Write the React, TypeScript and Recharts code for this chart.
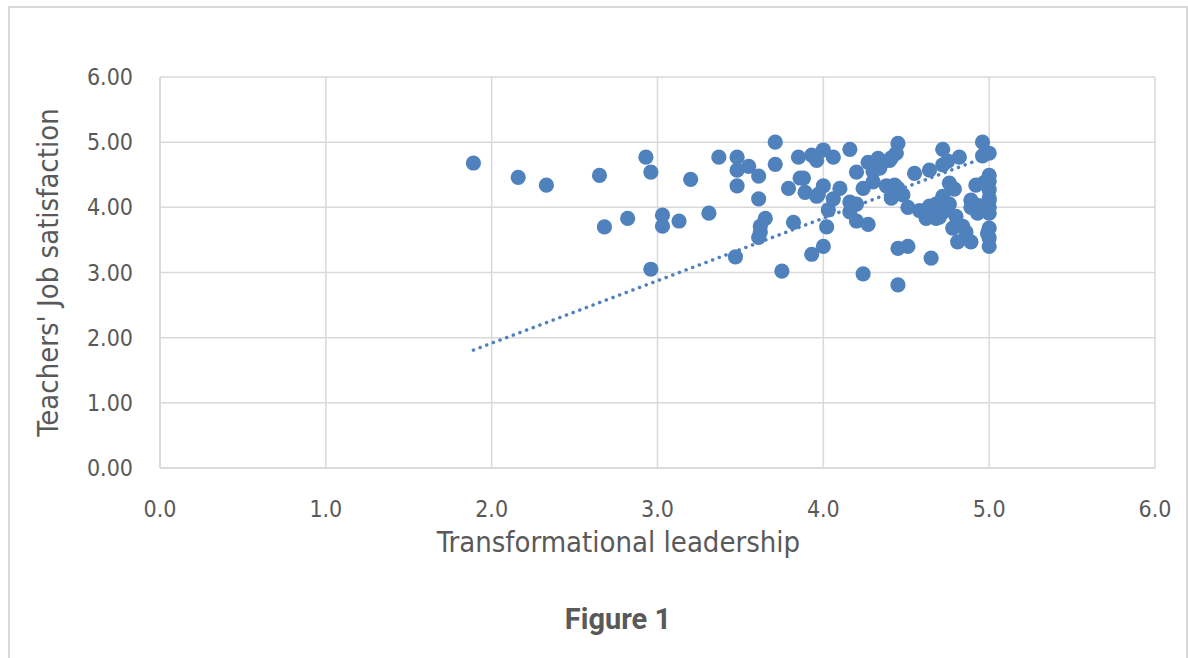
import React from "react"
import {
  ScatterChart,
  Scatter,
  XAxis,
  YAxis,
  CartesianGrid,
  Label,
} from "recharts"

// transformational leadership score per teacher
const leadership = [
  1.89, 2.16, 2.33, 2.65, 2.68, 2.82, 2.93, 2.96, 2.96, 3.03, 3.03, 3.13, 3.2, 3.31,
  3.37, 3.48, 3.48, 3.48, 3.47, 3.55, 3.61, 3.61, 3.62, 3.61, 3.65, 3.75, 3.71, 3.71,
  3.79, 3.82, 3.85, 3.86, 3.89, 3.93, 3.93, 3.96, 3.96, 4.0, 4.0, 4.0, 4.02, 4.03,
  4.06, 4.06, 4.1, 4.16, 4.16, 4.16, 4.2, 4.2, 4.24, 4.24, 4.27, 4.27, 4.3, 4.33,
  4.34, 4.38, 4.4, 4.41, 4.44, 4.45, 4.45, 4.45, 4.45, 4.48, 4.51, 4.51, 4.55, 4.62,
  4.62, 4.64, 4.64, 4.65, 4.68, 4.72, 4.72, 4.72, 4.73, 4.75, 4.76, 4.78, 4.79, 4.8,
  4.81, 4.82, 4.84, 4.86, 4.89, 4.89, 4.89, 4.92, 4.96, 4.96, 5.0, 5.0, 5.0, 5.0,
  5.0, 5.0, 5.0, 5.0, 5.0, 4.93, 4.93, 4.36, 4.41, 4.2, 3.62, 4.58, 4.68, 4.76,
  4.3, 5.0, 5.0, 4.97, 4.99, 4.7, 3.97, 4.43, 3.88,
]

// job satisfaction score per teacher
const satisfaction = [
  4.68, 4.46, 4.34, 4.49, 3.7, 3.83, 4.77, 4.54, 3.05, 3.88, 3.71, 3.79, 4.43, 3.91,
  4.77, 4.77, 4.57, 4.33, 3.24, 4.63, 4.48, 4.13, 3.71, 3.54, 3.83, 3.02, 5.0, 4.66,
  4.29, 3.77, 4.77, 4.45, 4.23, 3.28, 4.8, 4.72, 4.17, 4.88, 3.4, 4.33, 3.7, 3.96,
  4.77, 4.13, 4.29, 4.89, 4.08, 3.93, 3.79, 4.54, 2.98, 4.29, 3.74, 4.69, 4.39, 4.75,
  4.6, 4.33, 4.72, 4.14, 4.83, 4.98, 4.29, 3.37, 2.81, 4.19, 4.0, 3.4, 4.52, 3.93,
  3.83, 4.57, 4.02, 3.22, 3.83, 4.89, 4.65, 4.17, 3.94, 4.71, 4.37, 3.68, 4.28, 3.86,
  3.47, 4.77, 3.71, 3.62, 3.47, 4.11, 4.0, 4.34, 5.0, 4.79, 4.83, 4.49, 4.4, 4.11,
  4.0, 3.91, 3.68, 3.53, 3.4, 4.03, 3.91, 4.7, 4.76, 4.05, 3.62, 3.95, 4.05, 4.05,
  4.55, 4.27, 4.14, 4.38, 3.6, 3.85, 4.2, 4.34, 4.45,
]

// linear trendline ends
const trendX = [1.89, 5.0]
const trendY = [1.81, 4.79]

const xTicks = [0, 1, 2, 3, 4, 5, 6]
const yTicks = [0, 1, 2, 3, 4, 5, 6]

const points = leadership.map((x, i) => ({ x, y: satisfaction[i] }))
const trend = trendX.map((x, i) => ({ x, y: trendY[i] }))

const FONT = "'Liberation Sans Narrow', 'DejaVu Sans Condensed', sans-serif"
const TEXT = "#595959"
const BLUE = "#4f81bd"
const GRID = "#d9d9d9"

const Dot = (props: any) => (
  <circle cx={props.cx} cy={props.cy} r={7.6} fill={BLUE} />
)

export default function App() {
  return (
    <div
      style={{
        position: "absolute",
        left: 8,
        top: 6,
        width: 1180,
        height: 660,
        boxSizing: "border-box",
        border: `2px solid ${GRID}`,
        background: "#fff",
        fontFamily: FONT,
      }}
    >
      <ScatterChart
        width={1176}
        height={560}
        margin={{ top: 69, right: 31, bottom: 10, left: 0 }}
      >
        <CartesianGrid stroke={GRID} strokeWidth={1.5} />
        <XAxis
          type="number"
          dataKey="x"
          domain={[0, 6]}
          ticks={xTicks}
          tickFormatter={(v: number) => v.toFixed(1)}
          height={90}
          tickSize={0}
          tickMargin={33}
          axisLine={{ stroke: GRID, strokeWidth: 1.5 }}
          tick={{ fontSize: 23, fill: TEXT, fontFamily: FONT }}
        >
          <Label
            value="Transformational leadership"
            position="center"
            dx={-39}
            dy={29}
            style={{ fontSize: 29, fill: TEXT, fontFamily: FONT }}
          />
        </XAxis>
        <YAxis
          type="number"
          dataKey="y"
          domain={[0, 6]}
          ticks={yTicks}
          tickFormatter={(v: number) => v.toFixed(2)}
          width={150}
          tickSize={0}
          tickMargin={27}
          axisLine={{ stroke: GRID, strokeWidth: 1.5 }}
          tick={{ fontSize: 23, fill: TEXT, fontFamily: FONT }}
        >
          <Label
            value="Teachers' Job satisfaction"
            position="center"
            angle={-90}
            dx={-37}
            style={{ fontSize: 29, fill: TEXT, fontFamily: FONT, textAnchor: "middle" }}
          />
        </YAxis>
        <Scatter data={points} shape={Dot} isAnimationActive={false} />
        <Scatter
          data={trend}
          shape={() => null}
          line={{
            stroke: BLUE,
            strokeWidth: 3.5,
            strokeDasharray: "0.1 7",
            strokeLinecap: "round",
          }}
          isAnimationActive={false}
        />
      </ScatterChart>
      <div
        style={{
          position: "absolute",
          left: 0,
          width: 1216,
          top: 594,
          textAlign: "center",
          fontSize: 29,
          fontWeight: "bold",
          color: TEXT,
          fontFamily: "Roboto, sans-serif",
        }}
      >
        Figure 1
      </div>
    </div>
  )
}
